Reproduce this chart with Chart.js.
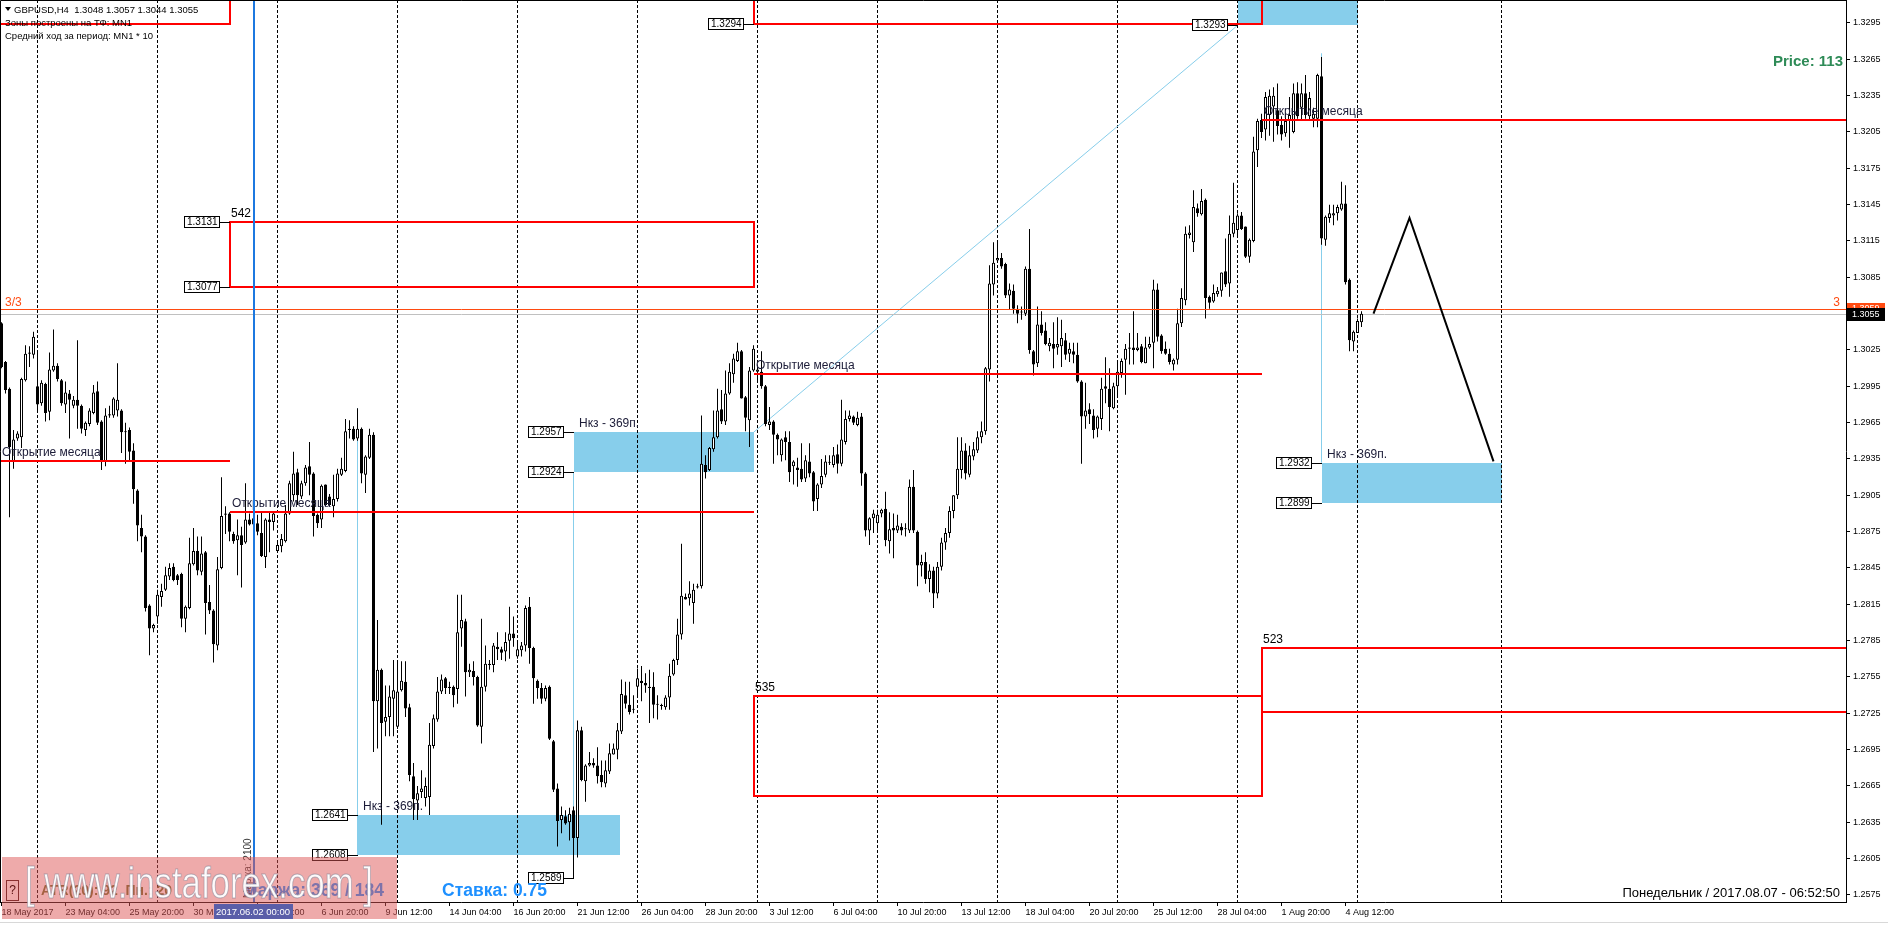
<!DOCTYPE html>
<html>
<head>
<meta charset="utf-8">
<title>GBPUSD,H4</title>
<script src="https://cdn.jsdelivr.net/npm/chart.js@4.4.1/dist/chart.umd.min.js"></script>
<style>
  html, body { margin: 0; padding: 0; background: #fff; overflow: hidden; }
  #chart { display: block; }
</style>
</head>
<body>
<canvas id="chart" width="1888" height="926"></canvas>
<script>
// H4 bars from 18 May 2017 12:00 to 7 Aug 2017 04:00
// prices kept as 4-digit pips: 3055 -> 1.3055
const opens = [
  3047,3015,2993,2933,2952,2953,3000,3023,3021,2995, 2981,2997,2974,3008,3012,3000,2980,2989,2979,2984,
  2979,2959,2964,2973,2991,2966,2933,2971,2971,2975, 2975,2957,2959,2942,2909,2878,2871,2814,2795,2805,
  2821,2827,2838,2846,2839,2840,2803,2812,2848,2859, 2842,2858,2817,2810,2781,2845,2889,2890,2873,2868,
  2872,2866,2885,2881,2882,2874,2854,2885,2883,2859, 2863,2867,2890,2905,2924,2904,2915,2929,2923,2889,
  2885,2914,2904,2896,2902,2922,2925,2960,2960,2952, 2960,2922,2936,2955,2735,2761,2718,2722,2737,2714,
  2744,2751,2730,2673,2653,2660,2655,2656,2698,2720, 2743,2754,2746,2747,2745,2795,2801,2759,2760,2755,
  2714,2747,2765,2765,2780,2778,2776,2785,2791,2772, 2777,2781,2813,2779,2752,2746,2737,2747,2702,2663,
  2637,2640,2635,2645,2622,2711,2669,2682,2684,2682, 2674,2667,2677,2691,2695,2710,2740,2732,2728,2747,
  2752,2750,2747,2747,2732,2731,2730,2738,2757,2769, 2790,2821,2820,2816,2829,2830,2930,2926,2943,2953,
  2976,2966,2989,3005,3016,3024,2986,2967,3008,3007, 3007,2995,2963,2966,2955,2938,2953,2949,2929,2928,
  2927,2919,2933,2924,2902,2914,2922,2932,2930,2939, 2931,2949,2968,2970,2963,2970,2923,2876,2886,2882,
  2890,2894,2867,2878,2876,2879,2877,2876,2912,2875, 2847,2850,2836,2843,2824,2846,2866,2874,2892,2905,
  2926,2942,2922,2937,2942,2953,2958,3009,3079,3099, 3101,3096,3070,3074,3059,3056,3055,3092,3024,3014,
  3046,3041,3028,3030,3027,3028,3033,3022,3024,3021, 2999,2970,2976,2971,2960,2968,2995,2993,2977,2995,
  3006,3017,3026,3027,3025,3028,3014,3027,3031,3075, 3037,3026,3022,3013,3017,3047,3066,3120,3114,3142,
  3137,3149,3069,3065,3071,3074,3090,3080,3121,3124, 3136,3127,3102,3115,3190,3215,3207,3219,3226,3223,
  3211,3204,3214,3205,3237,3225,3237,3218,3216,3216, 3251,3116,3134,3136,3138,3141,3146,3083,3032,3039,
  3048
];
const highs = [
  3048,3016,2994,2959,2958,3002,3029,3028,3040,3025, 3000,2998,3023,3042,3014,3001,2999,2992,2987,3033,
  2980,2966,2977,2996,2999,2967,2977,2979,2986,3014, 2976,2965,2961,2948,2910,2889,2872,2815,2799,2827,
  2832,2846,2849,2849,2840,2841,2814,2870,2878,2871, 2871,2859,2831,2811,2854,2920,2896,2891,2875,2885,
  2879,2915,2890,2890,2889,2891,2886,2891,2892,2866, 2873,2897,2917,2941,2927,2917,2930,2949,2924,2890,
  2914,2914,2906,2922,2927,2936,2968,2967,2962,2977, 2961,2938,2960,2957,2802,2762,2748,2748,2769,2768,
  2768,2768,2733,2684,2665,2678,2672,2717,2724,2755, 2757,2755,2751,2748,2823,2823,2803,2766,2768,2756,
  2803,2781,2769,2783,2792,2780,2792,2813,2805,2784, 2784,2814,2821,2780,2753,2750,2748,2748,2703,2667,
  2648,2645,2647,2648,2719,2714,2683,2693,2688,2697, 2686,2686,2700,2700,2717,2753,2751,2751,2740,2762,
  2764,2758,2761,2759,2740,2733,2740,2766,2770,2803, 2865,2824,2834,2832,2832,2971,2938,2945,2975,2993,
  2992,3008,3014,3022,3031,3025,2987,3011,3029,3013, 3024,2996,2978,2967,2956,2952,2958,2958,2934,2936,
  2948,2938,2948,2925,2915,2935,2938,2938,2945,2947, 2984,2975,2975,2971,2974,2973,2924,2887,2893,2893,
  2894,2908,2891,2890,2889,2882,2882,2918,2926,2876, 2856,2858,2848,2846,2850,2870,2878,2896,2905,2953,
  2953,2948,2946,2949,2958,2966,3011,3095,3114,3114, 3105,3097,3080,3079,3062,3061,3094,3125,3025,3061,
  3057,3048,3035,3048,3052,3050,3039,3031,3031,3031, 3000,2998,2981,2976,2971,3002,3019,3010,2998,3015,
  3018,3030,3039,3057,3039,3030,3036,3036,3083,3080, 3038,3032,3026,3018,3059,3076,3127,3128,3157,3146,
  3158,3150,3070,3079,3077,3089,3117,3136,3163,3138, 3139,3127,3117,3201,3216,3220,3238,3240,3242,3245,
  3218,3220,3234,3245,3246,3245,3252,3238,3225,3253, 3267,3136,3145,3145,3145,3164,3161,3084,3041,3051,
  3057
];
const lows = [
  3010,2989,2887,2927,2950,2944,2999,3011,3018,2974, 2979,2966,2967,3007,2999,2979,2973,2952,2977,2960,
  2956,2954,2962,2972,2963,2926,2929,2969,2969,2970, 2940,2931,2933,2898,2867,2858,2809,2773,2792,2799,
  2813,2826,2835,2834,2831,2796,2792,2811,2847,2839, 2839,2790,2807,2767,2777,2844,2873,2867,2865,2839,
  2829,2865,2880,2876,2872,2854,2845,2858,2876,2858, 2858,2866,2889,2900,2897,2902,2913,2905,2871,2878,
  2878,2896,2896,2887,2900,2921,2924,2952,2950,2950, 2915,2907,2935,2693,2696,2633,2706,2706,2706,2712,
  2743,2722,2669,2637,2637,2655,2648,2641,2696,2718, 2741,2741,2741,2730,2733,2780,2739,2755,2748,2714,
  2700,2743,2761,2759,2769,2769,2768,2770,2780,2770, 2772,2776,2766,2733,2737,2733,2735,2703,2660,2615,
  2626,2633,2620,2589,2606,2669,2652,2681,2680,2667, 2664,2664,2675,2691,2687,2708,2729,2724,2725,2739,
  2735,2742,2717,2721,2720,2728,2728,2728,2756,2765, 2786,2819,2814,2799,2828,2828,2919,2925,2941,2952,
  2964,2963,2988,2998,3015,2985,2958,2945,3007,2999, 2993,2962,2959,2931,2938,2933,2934,2916,2914,2912,
  2916,2916,2920,2892,2892,2911,2920,2930,2928,2923, 2929,2947,2966,2963,2962,2913,2871,2864,2874,2874,
  2887,2863,2857,2853,2874,2872,2871,2874,2874,2830, 2838,2832,2825,2812,2820,2843,2860,2870,2886,2902,
  2919,2918,2920,2934,2940,2948,2955,2999,3070,3098, 3092,3068,3058,3055,3047,3050,3053,3022,3004,3011,
  3037,3029,3024,3010,3021,3011,3017,3015,3014,2998, 2931,2960,2964,2952,2953,2959,2981,2958,2976,2986,
  3002,2988,3013,3013,3024,3014,3014,3026,3010,3032, 3022,3021,3013,3008,3013,3044,3062,3117,3106,3135,
  3136,3051,3059,3064,3069,3069,3077,3069,3118,3120, 3124,3101,3097,3114,3176,3200,3198,3202,3197,3203,
  3198,3201,3192,3204,3216,3215,3216,3215,3209,3209, 3112,3111,3130,3128,3132,3140,3079,3024,3024,3039,
  3044
];
const closes = [
  3011,2992,2945,2951,2956,3001,3022,3022,3036,2980, 2998,2973,3009,3012,3001,2981,2990,2984,2984,2979,
  2960,2965,2975,2990,2965,2933,2971,2972,2985,2984, 2957,2958,2941,2910,2880,2871,2812,2795,2798,2823,
  2826,2839,2845,2835,2835,2803,2813,2849,2859,2843, 2857,2816,2810,2782,2844,2888,2890,2875,2867,2872,
  2864,2885,2881,2886,2875,2855,2885,2883,2890,2864, 2869,2890,2915,2923,2905,2915,2928,2922,2888,2882,
  2913,2897,2897,2902,2923,2927,2958,2959,2951,2960, 2923,2937,2955,2735,2761,2717,2722,2739,2744,2743,
  2752,2729,2674,2654,2659,2663,2665,2699,2721,2743, 2753,2746,2747,2740,2792,2802,2759,2761,2755,2715,
  2747,2766,2766,2781,2778,2775,2784,2791,2787,2778, 2781,2812,2779,2754,2746,2737,2746,2704,2662,2636,
  2641,2634,2642,2622,2711,2670,2682,2684,2682,2673, 2668,2678,2692,2696,2711,2741,2733,2726,2728,2754,
  2750,2748,2746,2732,2733,2731,2738,2756,2769,2790, 2822,2819,2824,2827,2830,2931,2924,2944,2953,2975,
  2966,2989,3007,3018,3024,2985,2969,3008,3026,3009, 2995,2964,2966,2955,2951,2951,2949,2924,2933,2926,
  2918,2934,2923,2900,2914,2921,2933,2932,2938,2931, 2951,2968,2971,2965,2969,2923,2876,2886,2890,2889,
  2893,2868,2877,2876,2880,2876,2877,2912,2876,2847, 2850,2836,2843,2824,2846,2866,2874,2892,2905,2927,
  2942,2923,2938,2943,2953,2958,3010,3080,3097,3101, 3094,3070,3075,3059,3055,3056,3092,3025,3013,3046,
  3039,3030,3031,3026,3030,3035,3021,3026,3021,2999, 2970,2975,2972,2959,2970,2993,2993,2978,2995,3007,
  3016,3026,3027,3025,3027,3015,3027,3030,3075,3036, 3024,3022,3015,3017,3047,3068,3121,3122,3143,3138,
  3148,3068,3064,3072,3074,3089,3079,3121,3130,3136, 3125,3102,3116,3189,3214,3205,3234,3235,3235,3210,
  3203,3214,3219,3237,3218,3237,3219,3233,3220,3252, 3117,3135,3138,3138,3143,3146,3081,3033,3040,3049,
  3055
];

const timeLabelBars = [0,16,32,48,64,80,96,112,128,144,160,176,192,208,224,240,256,272,288,304,320,336];
const timeLabels = ['18 May 2017','23 May 04:00','25 May 20:00','30 May 12:00','2 Jun 04:00','6 Jun 20:00',
  '9 Jun 12:00','14 Jun 04:00','16 Jun 20:00','21 Jun 12:00','26 Jun 04:00','28 Jun 20:00','3 Jul 12:00',
  '6 Jul 04:00','10 Jul 20:00','13 Jul 12:00','18 Jul 04:00','20 Jul 20:00','25 Jul 12:00','28 Jul 04:00',
  '1 Aug 20:00','4 Aug 12:00'];
const priceTicks = [1.2575,1.2605,1.2635,1.2665,1.2695,1.2725,1.2755,1.2785,1.2815,1.2845,1.2875,1.2905,1.2935,
  1.2965,1.2995,1.3025,1.3055,1.3085,1.3115,1.3145,1.3175,1.3205,1.3235,1.3265,1.3295];

// monday separators (bar index)
const gridBars = [9,39,69,99,129,159,189,219,249,279,309,339,375];

// objects on the chart: bar index + price
const redZones = [      // [fromBar, toBar, top, bottom, title]
  [-3, 57, 1.3400, 1.3294, ''],
  [57, 188, 1.3131, 1.3077, '542'],
  [188, 315, 1.3400, 1.3294, ''],
  [188, 315, 1.2739, 1.2657, '535'],
  [315, 470, 1.2779, 1.2726, '523']
];
const monthOpens = [[-3, 57, 1.2933], [57, 188, 1.2891], [188, 315, 1.3005], [315, 470, 1.3215]];
const blueZones = [[89, 154.6, 1.2641, 1.2608], [143, 188, 1.2957, 1.2924], [330, 375, 1.2932, 1.2899], [309, 339, 1.3400, 1.3293]];
const zoneTitles = [[89, 1.2641], [143, 1.2957], [330, 1.2932]];
const priceBoxes = [[57, 1.3131], [57, 1.3077], [188, 1.3294], [89, 1.2641], [89, 1.2608], [143, 1.2957],
  [143, 1.2924], [143, 1.2589], [330, 1.2932], [330, 1.2899], [309, 1.3293]];
const guideLines = [[89, 1.2977, 89, 1.2608], [143, 1.2924, 143, 1.2589], [330, 1.3270, 330, 1.2932], [188, 1.2957, 309, 1.3293]];
const forecast = [[343, 1.3055], [352, 1.3134], [373, 1.2933]];
const levelPrice = 1.3059;
const bidPrice = 1.3055;
const markerBar = 63;

const FONT = '"Liberation Sans", Arial, sans-serif';
const P = v => 1 + v / 10000;

function priceBox(ctx, xRight, y, price) {
  const txt = price.toFixed(4);
  ctx.font = '10px ' + FONT;
  const w = Math.round(ctx.measureText(txt).width) + 5;
  const h = 12;
  const xr = Math.round(xRight);
  const yy = Math.round(y);
  const x0 = xr - 10 - w;
  const y0 = yy - 6;
  ctx.fillStyle = '#fff';
  ctx.fillRect(x0, y0, w, h);
  ctx.strokeStyle = '#000';
  ctx.lineWidth = 1;
  ctx.strokeRect(x0 + 0.5, y0 + 0.5, w - 1, h - 1);
  ctx.beginPath();
  ctx.moveTo(x0 + w, yy + 0.5);
  ctx.lineTo(xr, yy + 0.5);
  ctx.stroke();
  ctx.fillStyle = '#000';
  ctx.textAlign = 'left';
  ctx.textBaseline = 'middle';
  ctx.fillText(txt, x0 + 3, y0 + h / 2 + 0.5);
}

const terminalDrawings = {
  id: 'terminalDrawings',
  beforeDraw(chart) {
    const ctx = chart.ctx;
    ctx.save();
    ctx.fillStyle = '#fff';
    ctx.fillRect(0, 0, chart.width, chart.height);
    ctx.restore();
  },
  beforeDatasetsDraw(chart) {
    const { ctx, chartArea: a, scales: { x, y } } = chart;
    ctx.save();
    ctx.beginPath();
    ctx.rect(a.left, a.top, a.right - a.left, a.bottom - a.top);
    ctx.clip();

    ctx.fillStyle = '#87ceeb';
    blueZones.forEach(([b0, b1, top, bot]) => {
      const x0 = Math.round(x.getPixelForValue(b0)), x1 = Math.round(x.getPixelForValue(b1));
      const y0 = Math.round(y.getPixelForValue(top)), y1 = Math.round(y.getPixelForValue(bot));
      ctx.fillRect(x0, y0, x1 - x0, y1 - y0);
    });

    // week separators
    ctx.strokeStyle = '#000';
    ctx.lineWidth = 1;
    ctx.setLineDash([3, 2]);
    gridBars.forEach(b => {
      const px = Math.floor(x.getPixelForValue(b)) + 0.5;
      ctx.beginPath();
      ctx.moveTo(px, a.top);
      ctx.lineTo(px, a.bottom);
      ctx.stroke();
    });
    ctx.setLineDash([]);

    // thin guides
    ctx.strokeStyle = '#87ceeb';
    guideLines.forEach(([b0, p0, b1, p1]) => {
      ctx.beginPath();
      ctx.moveTo(Math.floor(x.getPixelForValue(b0)) + 0.5, y.getPixelForValue(p0));
      ctx.lineTo(Math.floor(x.getPixelForValue(b1)) + 0.5, y.getPixelForValue(p1));
      ctx.stroke();
    });

    // bid line
    const by = Math.round(y.getPixelForValue(bidPrice)) + 0.5;
    ctx.strokeStyle = '#c0c0c0';
    ctx.beginPath();
    ctx.moveTo(a.left, by);
    ctx.lineTo(a.right, by);
    ctx.stroke();
    ctx.restore();
  },
  afterDatasetsDraw(chart) {
    const { ctx, chartArea: a, scales: { x, y } } = chart;
    ctx.save();
    ctx.beginPath();
    ctx.rect(a.left, a.top, a.right - a.left, a.bottom - a.top);
    ctx.clip();

    // orange level
    const ly = Math.round(y.getPixelForValue(levelPrice)) + 0.5;
    ctx.strokeStyle = '#ff4a10';
    ctx.lineWidth = 1;
    ctx.beginPath();
    ctx.moveTo(a.left, ly);
    ctx.lineTo(a.right, ly);
    ctx.stroke();
    ctx.font = '12px ' + FONT;
    ctx.fillStyle = '#ff4a10';
    ctx.textBaseline = 'alphabetic';
    ctx.textAlign = 'left';
    ctx.fillText('3/3', 5, ly - 4);
    ctx.textAlign = 'right';
    ctx.fillText('3', a.right - 6, ly - 4);

    // month open lines
    ctx.strokeStyle = '#ff0000';
    ctx.lineWidth = 2;
    monthOpens.forEach(([b0, b1, p]) => {
      const yy = Math.round(y.getPixelForValue(p));
      const x0 = Math.max(Math.round(x.getPixelForValue(b0)), 0);
      ctx.beginPath();
      ctx.moveTo(x0, yy);
      ctx.lineTo(Math.round(x.getPixelForValue(b1)), yy);
      ctx.stroke();
      ctx.font = '12px ' + FONT;
      ctx.fillStyle = '#1c1c38';
      ctx.textAlign = 'left';
      ctx.fillText('Открытие месяца', x0 + 2, yy - 5);
    });

    // red zones
    redZones.forEach(([b0, b1, top, bot, title]) => {
      const x0 = Math.round(x.getPixelForValue(b0)), x1 = Math.round(x.getPixelForValue(b1));
      const y0 = Math.round(y.getPixelForValue(top)), y1 = Math.round(y.getPixelForValue(bot));
      ctx.strokeStyle = '#ff0000';
      ctx.lineWidth = 2;
      ctx.strokeRect(x0, y0, x1 - x0, y1 - y0);
      if (title) {
        ctx.font = '12px ' + FONT;
        ctx.fillStyle = '#000';
        ctx.textAlign = 'left';
        ctx.fillText(title, x0 + 1, y0 - 5);
      }
    });

    // marker line
    const mx = Math.floor(x.getPixelForValue(markerBar));
    ctx.fillStyle = '#1c78e0';
    ctx.fillRect(mx, a.top, 2, a.bottom - a.top);

    // forecast path
    ctx.strokeStyle = '#000';
    ctx.lineWidth = 2;
    ctx.beginPath();
    forecast.forEach(([b, p], k) => {
      const px = x.getPixelForValue(b), py = y.getPixelForValue(p);
      if (k === 0) ctx.moveTo(px, py); else ctx.lineTo(px, py);
    });
    ctx.stroke();

    // zone titles
    ctx.font = '12px ' + FONT;
    ctx.fillStyle = '#1c1c38';
    ctx.textAlign = 'left';
    zoneTitles.forEach(([b, p]) => {
      ctx.fillText('Нкз - 369п.', Math.round(x.getPixelForValue(b)) + 5, Math.round(y.getPixelForValue(p)) - 5);
    });

    // price boxes
    priceBoxes.forEach(([b, p]) => priceBox(ctx, x.getPixelForValue(b), y.getPixelForValue(p), p));

    // header
    ctx.fillStyle = '#000';
    ctx.beginPath();
    ctx.moveTo(5, 7); ctx.lineTo(11, 7); ctx.lineTo(8, 11); ctx.closePath();
    ctx.fill();
    ctx.font = '9.5px ' + FONT;
    ctx.textAlign = 'left';
    ctx.textBaseline = 'middle';
    ctx.fillText('GBPUSD,H4  ' + [opens, highs, lows, closes].map(s => P(s[s.length - 1]).toFixed(4)).join(' '), 14, 10);
    ctx.fillText('Зоны построены на ТФ: MN1', 5, 23);
    ctx.fillText('Средний ход за период: MN1 * 10', 5, 36);

    ctx.font = 'bold 15px ' + FONT;
    ctx.fillStyle = '#2e8b57';
    ctx.textAlign = 'right';
    ctx.fillText('Price: 113', 1843, 62);

    // info line at bottom
    ctx.textAlign = 'left';
    ctx.font = 'bold 14px ' + FONT;
    ctx.fillStyle = '#6b6b2a';
    ctx.fillText('ATR(20): 92  Пн.: 20', 41, 891);
    ctx.font = 'bold 17.5px ' + FONT;
    ctx.fillStyle = '#1e90ff';
    ctx.fillText('Маржа: 369 / 184', 243, 891);
    ctx.fillText('Ставка: 0.75', 442, 891);
    ctx.save();
    ctx.translate(mx - 5, 898);
    ctx.rotate(-Math.PI / 2);
    ctx.font = '10px ' + FONT;
    ctx.fillStyle = '#333';
    ctx.textAlign = 'left';
    ctx.fillText('Маржа: 2100', 0, 0);
    ctx.restore();

    ctx.font = '13px ' + FONT;
    ctx.fillStyle = '#000';
    ctx.textAlign = 'right';
    ctx.fillText('Понедельник / 2017.08.07 - 06:52:50', 1840, 893);
    ctx.restore();
  },
  afterDraw(chart) {
    const { ctx, chartArea: a, scales: { x, y } } = chart;
    ctx.save();
    // frame
    ctx.strokeStyle = '#000';
    ctx.lineWidth = 1;
    ctx.beginPath();
    ctx.moveTo(0.5, a.bottom);
    ctx.lineTo(0.5, 0.5);
    ctx.lineTo(a.right, 0.5);
    ctx.stroke();
    ctx.strokeStyle = '#d8d8d8';
    ctx.beginPath();
    ctx.moveTo(0, 922.5);
    ctx.lineTo(1888, 922.5);
    ctx.stroke();

    // axis price tags
    ctx.font = '9px ' + FONT;
    ctx.textAlign = 'left';
    ctx.textBaseline = 'middle';
    const ly = Math.round(y.getPixelForValue(levelPrice));
    ctx.fillStyle = '#ff4a10';
    ctx.fillRect(a.right + 1, ly - 6, 38, 12);
    ctx.fillStyle = '#fff';
    ctx.fillText(levelPrice.toFixed(4), a.right + 6, ly);
    const by = Math.round(y.getPixelForValue(bidPrice));
    ctx.fillStyle = '#000';
    ctx.fillRect(a.right + 1, by - 6, 38, 13);
    ctx.fillStyle = '#fff';
    ctx.fillText(bidPrice.toFixed(4), a.right + 6, by + 0.5);

    // watermark panel
    ctx.fillStyle = 'rgba(222, 86, 86, 0.5)';
    ctx.fillRect(2, 857, 395, 62);
    ctx.strokeStyle = '#8b3030';
    ctx.strokeRect(6.5, 880.5, 12, 20);
    ctx.font = '12px ' + FONT;
    ctx.fillStyle = '#5a1010';
    ctx.textAlign = 'center';
    ctx.fillText('?', 12.5, 891);
    const mark = '[ www.instaforex.com ]';
    ctx.font = '44px ' + FONT;
    ctx.textAlign = 'left';
    const sx = 348 / ctx.measureText(mark).width;
    ctx.save();
    ctx.translate(25, 886);
    ctx.scale(sx, 1);
    ctx.fillStyle = 'rgba(255,255,255,0.95)';
    ctx.strokeStyle = 'rgba(120,120,140,0.5)';
    ctx.lineWidth = 1;
    ctx.fillText(mark, 0, 0);
    ctx.strokeText(mark, 0, 0);
    ctx.restore();

    // crosshair date tag
    const mx = Math.floor(x.getPixelForValue(markerBar));
    ctx.fillStyle = '#5a5ea8';
    ctx.fillRect(mx - 39, 904, 79, 15);
    ctx.font = '9.5px ' + FONT;
    ctx.fillStyle = '#fff';
    ctx.textAlign = 'center';
    ctx.fillText('2017.06.02 00:00', mx, 912);
    ctx.restore();
  }
};

const bodyData = opens.map((o, i) => ({ x: i, y: [P(o), P(closes[i])] }));
const wickData = highs.map((h, i) => ({ x: i, y: [P(lows[i]), P(h)] }));
const bodyColors = opens.map((o, i) => (closes[i] >= o ? '#ffffff' : '#000000'));

const ctx = document.getElementById('chart').getContext('2d');
const chart = new Chart(ctx, {
  type: 'bar',
  data: {
    datasets: [{
      label: 'body',
      data: bodyData,
      backgroundColor: bodyColors,
      borderColor: '#000',
      borderWidth: 1,
      borderSkipped: false,
      barThickness: 3,
      grouped: false,
      minBarLength: 1,
      inflateAmount: 0,
      order: 0
    }, {
      label: 'wick',
      data: wickData,
      backgroundColor: '#000',
      borderWidth: 0,
      barThickness: 1,
      grouped: false,
      inflateAmount: 0,
      order: 1
    }]
  },
  options: {
    responsive: false,
    animation: false,
    devicePixelRatio: 1,
    layout: { padding: 0 },
    plugins: { legend: { display: false }, tooltip: { enabled: false } },
    scales: {
      x: {
        type: 'linear',
        offset: false,
        bounds: 'data',
        min: -0.375,
        max: 461.125,
        afterBuildTicks: s => { s.ticks = timeLabelBars.map(v => ({ value: v })); },
        afterFit: s => { s.height = 24; s.paddingLeft = 0; s.paddingRight = 0; },
        grid: { drawOnChartArea: false, drawTicks: true, tickLength: 4, color: '#000', offset: false },
        border: { display: true, color: '#000' },
        ticks: {
          color: '#000',
          font: { family: FONT, size: 9 },
          padding: 1,
          align: 'start',
          maxRotation: 0,
          minRotation: 0,
          autoSkip: false,
          callback: v => timeLabels[timeLabelBars.indexOf(v)]
        }
      },
      y: {
        position: 'right',
        bounds: 'data',
        beginAtZero: false,
        min: 1.256922,
        max: 1.331399,
        afterBuildTicks: s => { s.ticks = priceTicks.map(v => ({ value: v })); },
        afterFit: s => { s.width = 42; s.paddingTop = 0; s.paddingBottom = 0; },
        grid: { drawOnChartArea: false, drawTicks: true, tickLength: 4, color: '#000' },
        border: { display: true, color: '#000' },
        ticks: {
          color: '#000',
          font: { family: FONT, size: 9 },
          padding: 3,
          callback: v => v.toFixed(4)
        }
      }
    }
  },
  plugins: [terminalDrawings]
});
</script>
</body>
</html>
